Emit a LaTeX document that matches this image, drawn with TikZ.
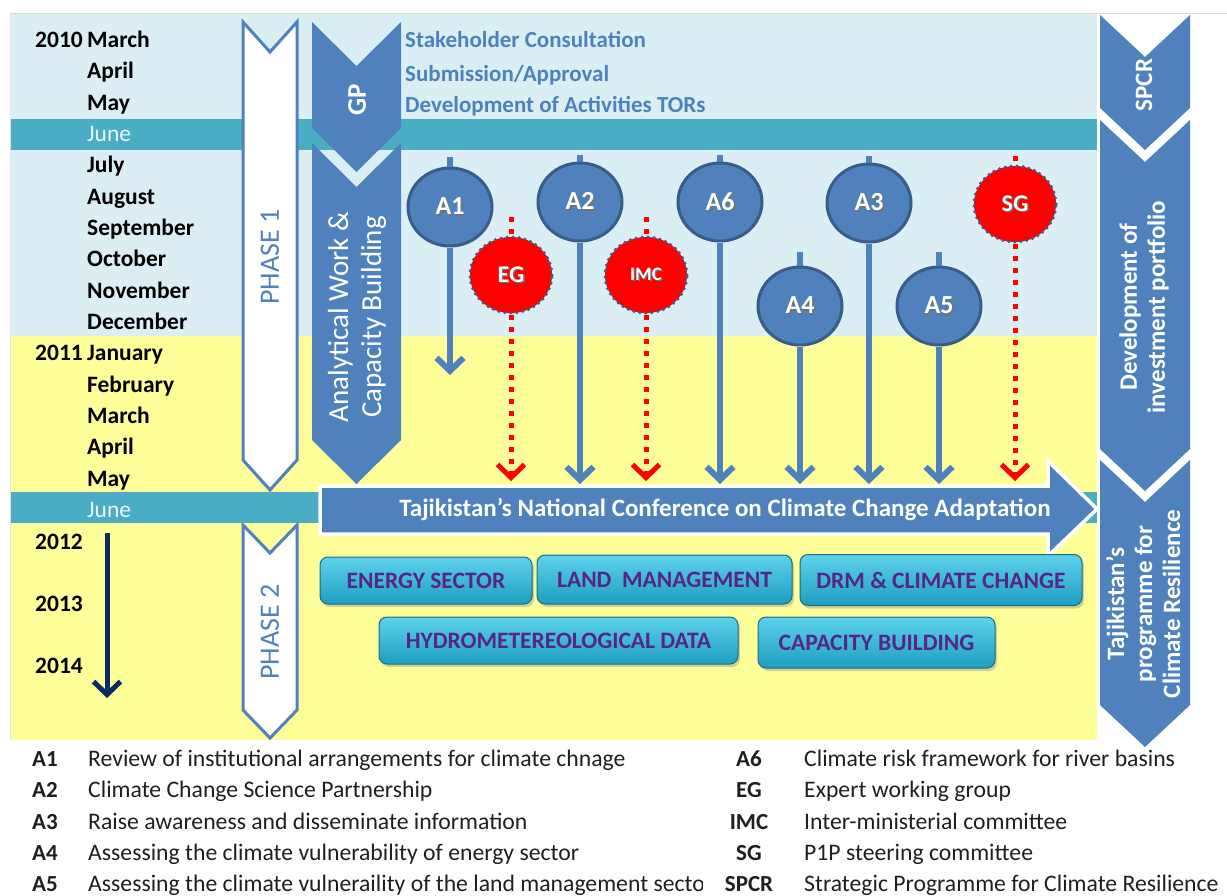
\documentclass[tikz,border=0pt]{standalone}
\usepackage{fontspec}
\setmainfont{Carlito}
\usetikzlibrary{arrows.meta,shapes.geometric,shadows}
\definecolor{lblue}{HTML}{DBEEF4}
\definecolor{yel}{HTML}{FFFF99}
\definecolor{tealb}{HTML}{4BACC6}
\definecolor{blu}{HTML}{4F81BD}
\definecolor{dblu}{HTML}{385D8A}
\definecolor{navy}{HTML}{0F2A63}
\definecolor{purp}{HTML}{56258A}
\definecolor{btop}{HTML}{5DD2EC}
\definecolor{bbot}{HTML}{1F9DC0}
\newcommand\mychev[6]{%
  \path[#1] (#2,#4) -- ({(#2+#3)/2},{#4+#6}) -- (#3,#4) -- (#3,#5) -- ({(#2+#3)/2},{#5+#6}) -- (#2,#5) -- cycle;}
\newcommand\shtext[1]{\leavevmode\rlap{\raisebox{-1.5pt}{\hspace{1.5pt}\textcolor{black!55}{#1}}}#1}
\begin{document}
\begin{tikzpicture}[x=1pt,y=-1pt,
  month/.style={anchor=base west, font=\fontsize{23.5}{28}\selectfont\bfseries, text=black, inner sep=0},
  june/.style={anchor=base west, font=\fontsize{23.5}{28}\selectfont, text=white!90!tealb, inner sep=0},
  stake/.style={anchor=base west, font=\fontsize{23}{28}\selectfont\bfseries, text=blu, inner sep=0},
  ph/.style={rotate=90, font=\fontsize{28}{33}\selectfont, text=blu, inner sep=0},
  vtext/.style={rotate=90, font=\fontsize{25}{28}\selectfont\bfseries, text=white, align=center, inner sep=0},
  act/.style={ellipse, fill=blu, draw=dblu, line width=3, minimum width=84, minimum height=78, inner sep=0, text=white, font=\fontsize{26}{30}\selectfont\bfseries},
  grp/.style={ellipse, fill=red, draw=dblu, line width=3.5, dash pattern=on 0pt off 6pt, line cap=round, minimum width=82, minimum height=76, inner sep=0, text=white, font=\fontsize{24}{28}\selectfont\bfseries},
  stem/.style={blu, line width=6},
  rstem/.style={red, line width=5, dash pattern=on 5pt off 7pt},
  barb/.style={-{Straight Barb[length=13pt,width=27pt]}},
  btn/.style={rounded corners=8, top color=btop, bottom color=bbot, draw=bbot!70!black, line width=1, drop shadow={opacity=0.35, shadow xshift=2pt, shadow yshift=-3pt}, text=purp, font=\fontsize{23.5}{26}\selectfont\bfseries, inner sep=0},
  leg/.style={anchor=base west, font=\fontsize{23.7}{26}\selectfont, text=black!88, inner sep=0},
  legl/.style={anchor=base, font=\fontsize{23}{26}\selectfont\bfseries, text=black!88, inner sep=0},
  chevw/.style={fill=white, draw=blu, line width=3},
  chevb/.style={fill=blu}]
\useasboundingbox (0,0) rectangle (1227,895);
% backgrounds
\fill[lblue] (10,14) rectangle (1097,336);
\fill[yel] (10,336) rectangle (1097,740);
\fill[tealb] (10,119) rectangle (1097,150);
\fill[tealb] (10,492) rectangle (1097,523);
\draw[black!15, line width=1] (10,13.5) -- (1227,13.5);
\draw[blue!12, line width=1] (10,13.5) -- (10,740);
% months
\node[month] (y10) at (35,47.5) {2010};
\node[month] (m0) at (87,47.5) {March};
\node[month] (m1) at (87,78.8) {April};
\node[month] (m2) at (87,110.2) {May};
\node[june]  (m3) at (87,141.5) {June};
\node[month] (m4) at (87,172.8) {July};
\node[month] (m5) at (87,204.2) {August};
\node[month] (m6) at (87,235.5) {September};
\node[month] (m7) at (87,266.8) {October};
\node[month] (m8) at (87,298.2) {November};
\node[month] (m9) at (87,329.5) {December};
\node[month] (y11) at (35,360.8) {2011};
\node[month] (m10) at (87,360.8) {January};
\node[month] (m11) at (87,392.2) {February};
\node[month] (m12) at (87,423.5) {March};
\node[month] (m13) at (87,454.8) {April};
\node[month] (m14) at (87,486.2) {May};
\node[june]  (m15) at (87,517.5) {June};
\node[month] (y12) at (35,549) {2012};
\node[month] (y13) at (35,611) {2013};
\node[month] (y14) at (35,673) {2014};
\coordinate (yr-top) at (107,533);
\coordinate (yr-end) at (107,698);
\draw[navy, line width=5, barb] (yr-top) -- (yr-end);
% phases
\mychev{chevw}{243}{297}{22}{460}{30}
\node[ph] (ph1) at (270,257) {PHASE 1};
\mychev{chevw}{243}{297}{525}{710}{28}
\node[ph] (ph2) at (270,632) {PHASE 2};
% GP and analytical work
\mychev{chevb}{312}{401}{22}{128}{44}
\node[vtext, font=\fontsize{27}{30}\selectfont\bfseries] (gp) at (357,100) {GP};
\mychev{chevb}{312}{401}{143}{440}{44}
\node[vtext, font=\fontsize{29}{33}\selectfont] (aw) at (357,317) {Analytical Work \&\\Capacity Building};
\node[stake] (s1) at (405,47.5) {Stakeholder Consultation};
\node[stake] (s2) at (405,81) {Submission/Approval};
\node[stake] (s3) at (405,112.5) {Development of Activities TORs};
% conference arrow
\path[fill=blu, draw=white, line width=3.5] (320,486) -- (1048,486) -- (1048,461) -- (1097,509) -- (1048,556) -- (1048,534) -- (320,534) -- cycle;
\node[font=\fontsize{25}{28}\selectfont\bfseries, text=white, inner sep=0] (conf) at (725,510) {Tajikistan's National Conference on Climate Change Adaptation};
% activities
\node[act] (a1) at (450,207) {\shtext{A1}};
\node[act] (a2) at (580,202) {\shtext{A2}};
\node[act] (a6) at (720,202) {\shtext{A6}};
\node[act] (a3) at (869,203) {\shtext{A3}};
\node[act] (a4) at (800,306) {\shtext{A4}};
\node[act] (a5) at (939,306) {\shtext{A5}};
\node[grp] (eg) at (511,275) {\shtext{EG}};
\node[grp, font=\fontsize{19}{22}\selectfont\bfseries] (imc) at (646,275) {\shtext{IMC}};
\node[grp] (sg) at (1015,204) {\shtext{SG}};
\coordinate (a1-top) at (450,157); \coordinate (a1-end) at (450,375);
\coordinate (a2-top) at (580,155); \coordinate (a2-end) at (580,484);
\coordinate (a6-top) at (720,155); \coordinate (a6-end) at (720,484);
\coordinate (a3-top) at (869,156); \coordinate (a3-end) at (869,484);
\coordinate (a4-top) at (800,252); \coordinate (a4-end) at (800,484);
\coordinate (a5-top) at (939,252); \coordinate (a5-end) at (939,484);
\coordinate (eg-top) at (511,217); \coordinate (eg-end) at (511,481);
\coordinate (imc-top) at (646,217); \coordinate (imc-end) at (646,481);
\coordinate (sg-top) at (1015,156); \coordinate (sg-end) at (1015,481);
\foreach \n in {a1,a2,a6,a3,a4,a5}{
  \draw[stem] (\n-top) -- (\n.north);
  \draw[stem, barb] (\n.south) -- (\n-end);
}
\foreach \n in {eg,imc,sg}{
  \draw[rstem] (\n-top) -- (\n.north);
  \draw[rstem, barb] (\n.south) -- (\n-end);
}
% sector buttons
\node[btn, minimum width=212, minimum height=47] (b1) at (426,580.5) {ENERGY SECTOR};
\node[btn, minimum width=255, minimum height=49] (b2) at (664.5,579.5) {LAND~~MANAGEMENT};
\node[btn, minimum width=282, minimum height=51] (b3) at (941,580) {DRM \& CLIMATE CHANGE};
\node[btn, minimum width=359, minimum height=47] (b4) at (558.5,640.5) {HYDROMETEREOLOGICAL DATA};
\node[btn, minimum width=237, minimum height=51] (b5) at (876.5,642.5) {CAPACITY BUILDING};
% right column
\mychev{chevb}{1100}{1190}{15}{108}{42}
\node[vtext, font=\fontsize{25}{28}\selectfont\bfseries] (spcr) at (1144,85) {SPCR};
\mychev{chevb}{1100}{1190}{120}{449}{42}
\node[vtext] (dev) at (1144,307) {Development of\\investment portfolio};
\mychev{chevb}{1100}{1190}{460}{705}{42}
\node[vtext] (tpcr) at (1143,604) {Tajikistan's\\programme for\\Climate Resilience};
% legend
\node[legl] (l1) at (45,766) {A1};
\node[leg] (d1) at (88,766) {Review of institutional arrangements for climate chnage};
\node[legl] (l2) at (45,797) {A2};
\node[leg] (d2) at (88,797) {Climate Change Science Partnership};
\node[legl] (l3) at (45,829) {A3};
\node[leg] (d3) at (88,829) {Raise awareness and disseminate information};
\node[legl] (l4) at (45,860) {A4};
\node[leg] (d4) at (88,860) {Assessing the climate vulnerability of energy sector};
\node[legl] (l5) at (45,891) {A5};
\begin{scope}
\clip (80,860) rectangle (702,895);
\node[leg] (d5) at (88,891) {Assessing the climate vulneraility of the land management sector};
\end{scope}
\node[legl] (l6) at (749,766) {A6};
\node[leg] (d6) at (804,766) {Climate risk framework for river basins};
\node[legl] (l7) at (749,797) {EG};
\node[leg] (d7) at (804,797) {Expert working group};
\node[legl] (l8) at (749,829) {IMC};
\node[leg] (d8) at (804,829) {Inter-ministerial committee};
\node[legl] (l9) at (749,860) {SG};
\node[leg] (d9) at (804,860) {P1P steering committee};
\node[legl] (l10) at (749,891) {SPCR};
\node[leg] (d10) at (804,891) {Strategic Programme for Climate Resilience};
\end{tikzpicture}
\end{document}
